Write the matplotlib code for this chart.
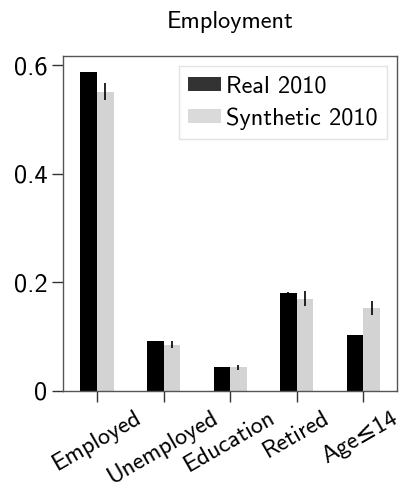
import numpy as np
import matplotlib
matplotlib.use('Agg')
import matplotlib.pyplot as plt
import matplotlib.transforms as mtransforms

plt.rcParams['font.family'] = ['cmss10', 'DejaVu Sans']
plt.rcParams['mathtext.fontset'] = 'cm'
plt.rcParams['axes.unicode_minus'] = False

categories = ['Employed', 'Unemployed', 'Education', 'Retired', 'Age≤14']
real_2010 = [0.587, 0.091, 0.043, 0.181, 0.102]
real_err = [0.001, 0.001, 0.0005, 0.001, 0.001]
synth_2010 = [0.551, 0.085, 0.043, 0.170, 0.153]
synth_err = [0.016, 0.0065, 0.004, 0.014, 0.013]
yticks = [0, 0.2, 0.4, 0.6]
ytick_labels = ['0', '0.2', '0.4', '0.6']

x = np.arange(len(categories))
w = 0.25

fig = plt.figure(figsize=(4.02, 4.91), dpi=100)
ax = fig.add_axes([0.157, 0.204, 0.831, 0.682])

ax.bar(x - w / 2, real_2010, w, yerr=real_err, color='black', label='Real 2010',
       error_kw=dict(ecolor='black', elinewidth=1.2))
ax.bar(x + w / 2, synth_2010, w, yerr=synth_err, color='#d3d3d3', label='Synthetic 2010',
       error_kw=dict(ecolor='black', elinewidth=1.2))

ax.set_xlim(-0.51, 4.51)
ax.set_ylim(0, 0.617)
ax.set_xticks(x)
ax.set_xticklabels(categories, rotation=30, ha='center', fontsize=17.5)
ax.set_yticks(yticks)
ax.set_yticklabels(ytick_labels, fontsize=19)
ax.tick_params(direction='out', length=8, width=1, colors='#333333')
for lbl in ax.get_xticklabels() + ax.get_yticklabels():
    lbl.set_color('black')
# last label sits at the right edge, nudge it in a little
last = ax.get_xticklabels()[-1]
last.set_transform(last.get_transform() +
                   mtransforms.ScaledTranslation(-3 / 100, 0, fig.dpi_scale_trans))
for s in ax.spines.values():
    s.set_color('#555555')
    s.set_linewidth(1)

ax.set_title('Employment', fontsize=17.5, pad=20)

leg = ax.legend(loc='upper right', fontsize=17.5, frameon=True, fancybox=False,
                edgecolor='#dddddd', handlelength=1.35, handleheight=0.5,
                borderaxespad=0.4, labelspacing=0.4, handletextpad=0.2,
                borderpad=0.4)
leg.get_frame().set_linewidth(1)
leg.legend_handles[0].set_facecolor('#333333')
leg.legend_handles[1].set_facecolor('#dadada')

fig.savefig('out.png', dpi=100)
